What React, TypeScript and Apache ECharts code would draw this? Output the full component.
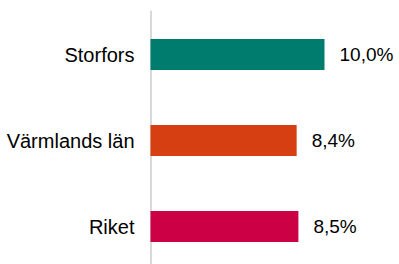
import React, { useEffect, useRef } from "react";
import * as echarts from "echarts";

const categories = ["Storfors", "Värmlands län", "Riket"];
const values = [10.0, 8.4, 8.5];
const colors = ["#007C6E", "#D63F11", "#CC0044"];

export default function App() {
  const ref = useRef<HTMLDivElement>(null);
  useEffect(() => {
    document.body.style.margin = "0";
    const chart = echarts.init(ref.current!, null, { renderer: "svg" });
    chart.setOption({
      animation: false,
      grid: { left: 150.5, top: 11.5, width: 243.6, height: 258, containLabel: false },
      xAxis: {
        type: "value",
        min: 0,
        max: 14,
        show: false,
      },
      yAxis: {
        type: "category",
        data: categories,
        inverse: true,
        axisLine: { show: true, lineStyle: { color: "#d9d9d9", width: 2 } },
        axisTick: { show: false },
        axisLabel: {
          color: "#000",
          fontFamily: "Liberation Sans, Arial, sans-serif",
          fontSize: 20,
          margin: 16,
        },
        splitLine: { show: false },
      },
      series: [
        {
          type: "bar",
          barWidth: 31,
          data: values.map((v, i) => ({ value: v, itemStyle: { color: colors[i] } })),
          label: {
            show: true,
            position: "right",
            distance: 15,
            color: "#000",
            fontFamily: "Liberation Sans, Arial, sans-serif",
            fontSize: 19,
            formatter: (p: any) => p.value.toFixed(1).replace(".", ",") + "%",
          },
        },
      ],
    });
    return () => chart.dispose();
  }, []);
  return (
    <div
      ref={ref}
      style={{ position: "fixed", left: 0, top: 0, width: 399, height: 280, background: "#fff" }}
    />
  );
}
